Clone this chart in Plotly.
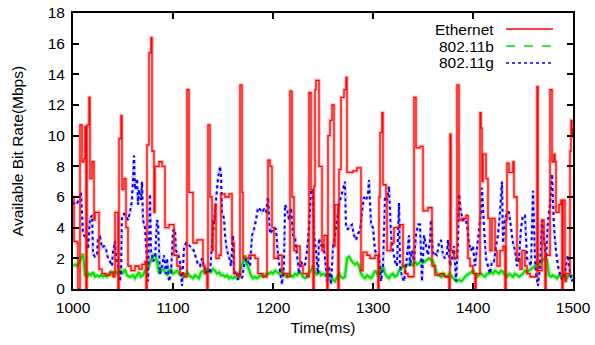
import plotly.graph_objects as go

# ---------------- data ----------------
# Ethernet: (time, value) breakpoints, held until next breakpoint
eth_t = [1000, 1001, 1004, 1005, 1007, 1009, 1011, 1012, 1013, 1014, 1016, 1017, 1019, 1021, 1022, 1026,
         1029, 1033, 1037, 1040, 1042, 1045, 1046, 1048, 1049, 1051, 1053, 1055, 1058, 1062, 1066, 1069,
         1072, 1073, 1074, 1076, 1078, 1079, 1081, 1082, 1086, 1089, 1092, 1096, 1101, 1104, 1107, 1111,
         1114, 1116, 1120, 1124, 1130, 1132, 1134, 1135, 1137, 1139, 1140, 1142, 1143, 1146, 1148, 1152,
         1156, 1159, 1161, 1165, 1167, 1169, 1170, 1176, 1182, 1185, 1190, 1194, 1195, 1197, 1199, 1201,
         1205, 1209, 1214, 1217, 1219, 1221, 1224, 1227, 1230, 1234, 1236, 1238, 1240, 1241, 1242, 1243,
         1246, 1249, 1251, 1254, 1255, 1257, 1259, 1261, 1262, 1265, 1266, 1268, 1271, 1273, 1274, 1280,
         1284, 1288, 1290, 1294, 1297, 1302, 1305, 1306, 1307, 1309, 1310, 1313, 1314, 1318, 1321, 1327,
         1330, 1332, 1335, 1341, 1343, 1347, 1350, 1355, 1359, 1362, 1367, 1371, 1376, 1377, 1378, 1381,
         1384, 1386, 1389, 1393, 1395, 1397, 1400, 1402, 1403, 1407, 1408, 1409, 1410, 1413, 1415, 1417,
         1419, 1422, 1424, 1427, 1430, 1432, 1433, 1434, 1436, 1440, 1441, 1444, 1447, 1449, 1452, 1454,
         1457, 1464, 1465, 1469, 1471, 1472, 1473, 1477, 1479, 1481, 1482, 1483, 1486, 1488, 1489, 1490,
         1492, 1493, 1497, 1498, 1499, 1500]
eth_v = [6.0, 3.1, 3.0, 0.0, 10.7, 8.3, 8.5, 10.6, 0.0, 10.7, 12.5, 7.2, 8.3, 4.5, 5.0, 1.3,
         1.0, 0.9, 1.1, 0.8, 5.0, 0.0, 9.8, 11.3, 6.5, 7.2, 4.0, 1.5, 1.2, 1.5, 1.3, 1.6,
         1.8, 0.0, 9.4, 15.4, 16.4, 9.0, 5.0, 8.0, 8.3, 8.0, 4.0, 4.2, 2.2, 1.5, 1.0, 0.8,
         13.0, 6.3, 3.0, 3.2, 1.5, 1.0, 0.0, 10.7, 6.0, 2.5, 4.5, 5.5, 2.0, 2.2, 6.2, 6.0,
         6.2, 3.0, 1.0, 0.8, 13.3, 6.3, 2.0, 2.2, 2.0, 1.0, 0.8, 5.0, 8.4, 8.0, 4.0, 2.0,
         2.2, 1.0, 0.8, 12.9, 6.0, 2.5, 2.8, 1.5, 1.0, 0.8, 12.8, 6.5, 0.0, 6.7, 13.0, 13.6,
         8.0, 2.5, 3.5, 0.0, 10.0, 11.0, 12.0, 2.8, 5.5, 0.0, 7.8, 12.5, 13.0, 13.8, 7.6, 7.7,
         7.9, 1.2, 2.4, 2.2, 2.0, 2.2, 0.0, 6.0, 10.2, 11.5, 6.8, 6.0, 2.5, 3.0, 4.0, 4.2,
         1.5, 1.0, 0.8, 12.5, 9.2, 9.3, 5.1, 5.3, 1.5, 0.9, 1.0, 0.8, 0.0, 10.1, 2.5, 2.0,
         13.3, 4.5, 4.6, 4.8, 2.0, 1.5, 1.0, 0.0, 1.0, 11.5, 10.5, 7.0, 8.8, 7.2, 4.6, 2.5,
         4.6, 2.5, 1.5, 2.5, 2.8, 0.0, 4.5, 8.2, 7.6, 8.3, 6.0, 2.0, 1.3, 2.5, 1.5, 1.0,
         0.8, 13.2, 1.2, 4.5, 3.0, 0.0, 2.2, 13.0, 8.3, 8.8, 8.3, 5.0, 5.5, 5.8, 0.0, 5.8,
         0.5, 1.0, 9.0, 11.0, 10.0, 10.5]

# 802.11b: sampled every 2 ms from 1000 to 1500
b_t = list(range(1000, 1501, 2))
b_v = [1.5, 1.6, 1.5, 1.7, 2.0, 2.3, 0.9, 0.8, 1.0, 0.9,
       1.1, 0.8, 0.9, 0.8, 0.9, 0.8, 0.9, 0.8,
       1.0, 1.1, 0.9, 1.2, 1.0, 1.1,
       1.2, 1.0, 1.3, 0.9, 0.8,
       0.8, 0.9, 0.7, 0.9, 1.1, 0.8, 0.9,
       1.2, 1.4, 1.5,
       1.9, 2.1, 2.3, 1.8,
       1.0, 1.2, 1.3,
       1.1, 0.9, 1.2, 1.3, 1.0,
       1.1, 1.2, 1.0, 0.9, 0.8,
       0.9, 1.1, 0.9,
       0.8, 0.7, 0.9, 0.8, 0.7,
       1.1, 1.2, 1.0, 1.3, 1.2, 1.1, 1.3,
       1.2, 1.0, 1.1, 0.9, 0.9,
       0.8, 0.9, 0.7, 0.8, 0.7, 0.8, 0.7,
       0.9, 1.4, 1.8, 2.2, 1.6,
       1.2, 0.9, 0.7, 0.8, 0.7,
       0.8, 0.9, 0.8, 0.9, 1.0,
       1.0, 1.1, 1.0, 1.2, 1.1, 1.0, 1.2, 1.1,
       0.9, 0.8, 1.0, 0.9, 0.8, 1.0, 0.9,
       1.1, 1.0, 0.8, 0.7, 0.8,
       1.0, 1.2, 1.5, 1.1, 0.9, 1.2,
       0.9, 1.0, 0.9, 1.0, 0.8, 0.9, 0.6, 0.5, 0.8,
       1.0, 0.8, 0.7, 0.8,
       2.0, 2.1, 1.9,
       1.7, 1.6, 1.7, 1.5,
       1.0, 0.8,
       0.7, 0.9, 0.8, 0.7, 0.9, 1.2,
       1.0, 0.8, 1.3, 1.5,
       1.0, 0.8, 0.7, 0.9, 1.0, 0.8, 0.9,
       1.2, 1.3, 1.5, 1.4, 1.6,
       1.6, 1.7, 1.5, 1.8, 1.6, 1.7, 1.8, 1.7,
       1.8, 1.9, 2.0, 1.9, 1.8,
       1.4, 1.0,
       0.9, 0.8, 1.0, 0.9, 0.8, 1.0, 0.9,
       0.7, 0.6, 0.5, 0.6, 0.5,
       0.6, 0.8, 0.9, 1.0, 1.1, 1.2, 1.0,
       0.8, 0.9, 1.0, 0.9, 0.8, 1.0,
       1.0, 1.1, 1.0, 1.2, 1.1, 1.0, 1.2, 1.1,
       0.9, 0.8, 1.0, 0.9, 0.8, 1.0, 0.9, 0.8,
       0.9, 1.0, 1.2, 1.1, 1.2,
       1.3, 1.4, 1.5, 1.7, 1.6, 1.8, 1.9, 2.0, 1.9,
       0.9, 0.8, 0.9, 0.8, 0.7, 0.9, 0.8, 0.9, 0.8, 0.7, 0.9, 0.8, 0.9]

# 802.11g: (time, value) samples
g_t = [1000, 1002, 1004, 1006, 1008, 1009, 1010, 1012, 1014, 1015, 1017, 1019, 1020, 1022, 1024, 1025,
       1027, 1029, 1031, 1033, 1035, 1037, 1039, 1040, 1042, 1043, 1045, 1047, 1048, 1049, 1051, 1053,
       1055, 1057, 1059, 1061, 1062, 1064, 1065, 1066, 1068, 1069, 1070, 1072, 1073, 1075, 1077, 1078,
       1080, 1082, 1084, 1085, 1087, 1089, 1091, 1093, 1094, 1096, 1098, 1100, 1102, 1103, 1105, 1107,
       1109, 1111, 1113, 1115, 1117, 1119, 1121, 1123, 1125, 1127, 1129, 1131, 1133, 1135, 1137, 1139,
       1141, 1143, 1145, 1147, 1148, 1149, 1151, 1152, 1154, 1156, 1158, 1160, 1161, 1163, 1165, 1167,
       1169, 1171, 1173, 1175, 1177, 1179, 1181, 1183, 1185, 1187, 1189, 1191, 1193, 1195, 1197, 1199,
       1201, 1203, 1205, 1207, 1209, 1211, 1212, 1214, 1216, 1218, 1220, 1222, 1224, 1226, 1228, 1230,
       1232, 1234, 1236, 1238, 1240, 1241, 1243, 1245, 1246, 1248, 1250, 1252, 1254, 1256, 1258, 1260,
       1262, 1264, 1266, 1268, 1270, 1272, 1273, 1275, 1277, 1279, 1281, 1283, 1285, 1287, 1289, 1291,
       1293, 1295, 1296, 1298, 1300, 1302, 1304, 1306, 1308, 1310, 1312, 1314, 1316, 1318, 1320, 1322,
       1324, 1326, 1327, 1329, 1331, 1333, 1336, 1337, 1339, 1341, 1343, 1345, 1347, 1349, 1351, 1353,
       1355, 1357, 1358, 1360, 1362, 1364, 1366, 1368, 1370, 1372, 1374, 1375, 1377, 1379, 1381, 1383,
       1385, 1386, 1388, 1390, 1392, 1394, 1396, 1398, 1400, 1402, 1404, 1406, 1408, 1409, 1411, 1413,
       1415, 1417, 1419, 1421, 1423, 1425, 1427, 1429, 1430, 1432, 1434, 1436, 1438, 1440, 1442, 1444,
       1446, 1448, 1450, 1452, 1454, 1456, 1458, 1460, 1462, 1463, 1465, 1467, 1469, 1471, 1473, 1475,
       1477, 1479, 1481, 1483, 1485, 1487, 1489, 1491, 1493, 1495, 1497, 1499, 1500]
g_v = [5.5, 5.7, 5.6, 5.8, 6.3, 5.0, 3.6, 3.4, 3.3, 2.6, 4.6, 4.8, 2.3, 2.1, 2.2, 3.3,
       3.4, 2.7, 2.8, 2.6, 2.0, 1.8, 1.5, 2.5, 3.1, 2.0, 1.5, 0.5, 1.0, 4.8, 4.9, 4.8,
       4.5, 5.0, 5.8, 8.7, 6.5, 7.2, 5.5, 6.5, 5.8, 7.0, 4.5, 4.0, 3.0, 0.5, 6.2, 2.5,
       1.8, 2.0, 4.5, 4.3, 1.0, 1.5, 2.2, 1.0, 2.0, 0.5, 1.0, 3.8, 3.9, 2.5, 2.3, 1.8,
       0.2, 2.7, 3.0, 2.9, 2.8, 2.6, 2.5, 2.0, 1.6, 1.5, 2.0, 1.5, 1.0, 1.3, 1.0, 3.0,
       4.5, 5.5, 7.2, 8.0, 7.5, 5.0, 4.6, 3.5, 2.5, 2.1, 1.5, 3.5, 1.0, 1.2, 0.6, 1.0,
       0.7, 1.5, 2.0, 1.8, 1.5, 3.5, 3.9, 4.5, 5.3, 5.2, 5.0, 5.2, 5.0, 6.0, 3.6, 3.8,
       4.0, 3.9, 2.2, 1.2, 0.3, 1.5, 5.5, 5.2, 4.5, 5.3, 3.5, 3.4, 2.0, 1.0, 1.8, 1.5,
       1.6, 2.5, 4.0, 6.5, 6.2, 3.5, 2.5, 1.0, 3.3, 2.8, 3.0, 2.0, 0.5, 1.5, 0.3, 2.8,
       3.5, 4.5, 5.5, 6.0, 6.5, 7.0, 4.0, 3.9, 4.1, 4.2, 3.5, 3.2, 3.6, 3.8, 5.0, 6.0,
       5.8, 6.2, 7.1, 4.2, 4.0, 2.5, 2.3, 2.2, 0.5, 1.5, 6.0, 5.8, 6.7, 3.5, 2.5, 1.8,
       1.5, 5.6, 1.5, 0.8, 0.5, 1.5, 3.5, 1.5, 2.5, 1.8, 3.5, 4.2, 4.2, 0.5, 3.5, 2.8,
       2.2, 3.2, 4.5, 2.2, 2.3, 2.2, 3.0, 3.2, 2.2, 2.0, 2.3, 3.2, 1.5, 2.0, 2.8, 0.5,
       3.0, 6.2, 5.0, 4.5, 4.6, 4.2, 3.0, 2.5, 2.8, 1.5, 2.5, 3.8, 5.0, 6.6, 4.0, 2.0,
       1.5, 1.0, 1.8, 1.8, 2.8, 3.5, 5.0, 7.0, 3.0, 4.5, 5.0, 5.0, 4.0, 3.0, 2.5, 1.5,
       2.0, 4.0, 4.8, 4.8, 2.0, 1.8, 1.5, 6.4, 2.0, 1.0, 0.2, 1.5, 4.5, 3.0, 2.0, 4.5,
       5.5, 7.5, 4.0, 2.5, 1.5, 1.0, 0.6, 0.8, 1.5, 2.2, 1.0, 0.5, 0.8]

x_ticks = [1000, 1100, 1200, 1300, 1400, 1500]
y_ticks = list(range(0, 19, 2))

legend_names = ["Ethernet", "802.11b", "802.11g"]
RED = "rgb(255,0,0)"
GREEN = "rgb(0,225,0)"
BLUE = "rgb(0,0,255)"

FONT = "Liberation Sans, Arial, Helvetica, sans-serif"
FS = 15.5

fig = go.Figure()

# green (802.11b) halo + line
fig.add_trace(go.Scatter(x=b_t, y=b_v, mode="lines", line=dict(color="rgba(0,225,0,0.35)", width=4.5),
                         hoverinfo="skip", showlegend=False))
fig.add_trace(go.Scatter(x=b_t, y=b_v, mode="lines", line=dict(color=GREEN, width=2),
                         name=legend_names[1], showlegend=False))
# blue (802.11g)
fig.add_trace(go.Scatter(x=g_t, y=g_v, mode="lines", line=dict(color="rgba(0,0,255,0.2)", width=3.5, dash="dot"),
                         hoverinfo="skip", showlegend=False))
fig.add_trace(go.Scatter(x=g_t, y=g_v, mode="lines", line=dict(color=BLUE, width=2, dash="dot"),
                         name=legend_names[2], showlegend=False))
# red (Ethernet) halo + line
fig.add_trace(go.Scatter(x=eth_t, y=eth_v, mode="lines", line=dict(color="rgba(255,0,0,0.25)", width=3.5, shape="hv"),
                         hoverinfo="skip", showlegend=False))
fig.add_trace(go.Scatter(x=eth_t, y=eth_v, mode="lines", line=dict(color=RED, width=1.3, shape="hv"),
                         name=legend_names[0], showlegend=False))

# gnuplot-style legend (text, then sample)
leg_y = [0.942, 0.880, 0.819]
leg_style = [dict(color=RED, width=1.5), dict(color=GREEN, width=1.5, dash="dash"), dict(color=BLUE, width=1.5, dash="dot")]
for name, yy, st in zip(legend_names, leg_y, leg_style):
    fig.add_annotation(x=0.846, y=yy, xref="paper", yref="paper", text=name, showarrow=False,
                       xanchor="right", yanchor="middle",
                       font=dict(family=FONT, size=FS, color="black"))
    fig.add_shape(type="line", xref="paper", yref="paper", x0=0.866, x1=0.96, y0=yy, y1=yy, line=st)

axis_common = dict(showline=True, linecolor="black", linewidth=2, mirror="ticks", ticks="inside",
                   ticklen=6, tickwidth=1.5, tickcolor="black", showgrid=False, zeroline=False,
                   automargin=False, ticklabeloverflow="allow",
                   tickfont=dict(family=FONT, size=FS, color="black"))

fig.update_layout(
    width=595, height=345,
    margin=dict(l=73, r=22, t=13, b=56, autoexpand=False),
    plot_bgcolor="white", paper_bgcolor="white",
    font=dict(family=FONT, size=FS, color="black"),
    showlegend=False,
    xaxis=dict(range=[1000, 1500], tickvals=x_ticks, ticktext=[str(v) for v in x_ticks],
               ticklabelstandoff=3,
               title=dict(text="Time(ms)", font=dict(family=FONT, size=FS), standoff=8), **axis_common),
    yaxis=dict(range=[0, 18], tickvals=y_ticks, ticktext=[str(v) for v in y_ticks],
               ticklabelstandoff=3,
               title=dict(text="Available Bit Rate(Mbps)", font=dict(family=FONT, size=FS), standoff=20), **axis_common),
)

# remove the default page margin so the figure fills the window exactly
fig.write_html("out.html", config={"displayModeBar": False},
               post_script="document.body.style.margin='0px';document.body.style.overflow='hidden';")
